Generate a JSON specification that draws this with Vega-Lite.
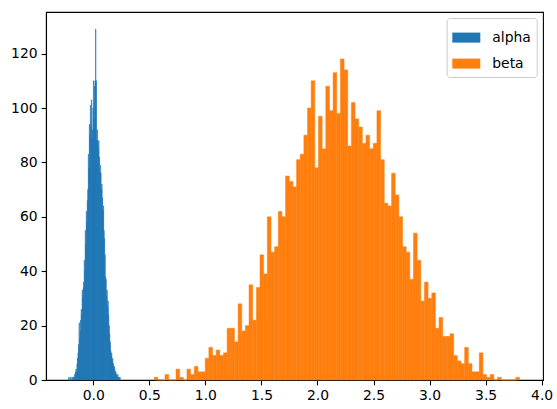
{
"$schema": "https://vega.github.io/schema/vega-lite/v6.json",
"autosize": {"type": "none"},
"padding": {"left": 46, "top": 12, "right": 14, "bottom": 29},
"width": 497,
"height": 368,
"background": "white",
"config": {
  "view": {"stroke": "black", "strokeWidth": 1.1},
  "axis": {"domainColor": "black", "domainWidth": 1.1, "tickColor": "black", "tickWidth": 1.1, "tickSize": 4.9, "labelPadding": 4, "labelFont": "DejaVu Sans", "labelFontSize": 13.9, "labelColor": "black", "grid": false, "title": null},
  "legend": {"labelFont": "DejaVu Sans", "labelFontSize": 13.9, "labelColor": "black"}
},
"data": {"values": [
{"series":"alpha","x0":-0.22,"x1":-0.2154,"count":1},
{"series":"alpha","x0":-0.2154,"x1":-0.2108,"count":0},
{"series":"alpha","x0":-0.2108,"x1":-0.2062,"count":0},
{"series":"alpha","x0":-0.2062,"x1":-0.2016,"count":1},
{"series":"alpha","x0":-0.2016,"x1":-0.197,"count":0},
{"series":"alpha","x0":-0.197,"x1":-0.1924,"count":0},
{"series":"alpha","x0":-0.1924,"x1":-0.1878,"count":1},
{"series":"alpha","x0":-0.1878,"x1":-0.1832,"count":0},
{"series":"alpha","x0":-0.1832,"x1":-0.1786,"count":1},
{"series":"alpha","x0":-0.1786,"x1":-0.174,"count":1},
{"series":"alpha","x0":-0.174,"x1":-0.1694,"count":0},
{"series":"alpha","x0":-0.1694,"x1":-0.1648,"count":2},
{"series":"alpha","x0":-0.1648,"x1":-0.1602,"count":1},
{"series":"alpha","x0":-0.1602,"x1":-0.1556,"count":3},
{"series":"alpha","x0":-0.1556,"x1":-0.151,"count":4},
{"series":"alpha","x0":-0.151,"x1":-0.1464,"count":3},
{"series":"alpha","x0":-0.1464,"x1":-0.1418,"count":6},
{"series":"alpha","x0":-0.1418,"x1":-0.1372,"count":8},
{"series":"alpha","x0":-0.1372,"x1":-0.1326,"count":10},
{"series":"alpha","x0":-0.1326,"x1":-0.128,"count":13},
{"series":"alpha","x0":-0.128,"x1":-0.1234,"count":21},
{"series":"alpha","x0":-0.1234,"x1":-0.1188,"count":15},
{"series":"alpha","x0":-0.1188,"x1":-0.1142,"count":18},
{"series":"alpha","x0":-0.1142,"x1":-0.1096,"count":22},
{"series":"alpha","x0":-0.1096,"x1":-0.105,"count":26},
{"series":"alpha","x0":-0.105,"x1":-0.1004,"count":24},
{"series":"alpha","x0":-0.1004,"x1":-0.0958,"count":33},
{"series":"alpha","x0":-0.0958,"x1":-0.0912,"count":30},
{"series":"alpha","x0":-0.0912,"x1":-0.0866,"count":34},
{"series":"alpha","x0":-0.0866,"x1":-0.082,"count":36},
{"series":"alpha","x0":-0.082,"x1":-0.0774,"count":44},
{"series":"alpha","x0":-0.0774,"x1":-0.0728,"count":40},
{"series":"alpha","x0":-0.0728,"x1":-0.0682,"count":55},
{"series":"alpha","x0":-0.0682,"x1":-0.0636,"count":50},
{"series":"alpha","x0":-0.0636,"x1":-0.059,"count":62},
{"series":"alpha","x0":-0.059,"x1":-0.0544,"count":58},
{"series":"alpha","x0":-0.0544,"x1":-0.0498,"count":66},
{"series":"alpha","x0":-0.0498,"x1":-0.0452,"count":70},
{"series":"alpha","x0":-0.0452,"x1":-0.0406,"count":83},
{"series":"alpha","x0":-0.0406,"x1":-0.036,"count":78},
{"series":"alpha","x0":-0.036,"x1":-0.0314,"count":94},
{"series":"alpha","x0":-0.0314,"x1":-0.0268,"count":90},
{"series":"alpha","x0":-0.0268,"x1":-0.0222,"count":101},
{"series":"alpha","x0":-0.0222,"x1":-0.0176,"count":94},
{"series":"alpha","x0":-0.0176,"x1":-0.013,"count":103},
{"series":"alpha","x0":-0.013,"x1":-0.0084,"count":89},
{"series":"alpha","x0":-0.0084,"x1":-0.0038,"count":92},
{"series":"alpha","x0":-0.0038,"x1":0.0008,"count":100},
{"series":"alpha","x0":0.0008,"x1":0.0054,"count":110},
{"series":"alpha","x0":0.0054,"x1":0.01,"count":96},
{"series":"alpha","x0":0.01,"x1":0.0146,"count":108},
{"series":"alpha","x0":0.0146,"x1":0.0192,"count":110},
{"series":"alpha","x0":0.0192,"x1":0.0238,"count":129},
{"series":"alpha","x0":0.0238,"x1":0.0284,"count":110},
{"series":"alpha","x0":0.0284,"x1":0.033,"count":88},
{"series":"alpha","x0":0.033,"x1":0.0376,"count":92},
{"series":"alpha","x0":0.0376,"x1":0.0422,"count":88},
{"series":"alpha","x0":0.0422,"x1":0.0468,"count":85},
{"series":"alpha","x0":0.0468,"x1":0.0514,"count":88},
{"series":"alpha","x0":0.0514,"x1":0.056,"count":82},
{"series":"alpha","x0":0.056,"x1":0.0606,"count":76},
{"series":"alpha","x0":0.0606,"x1":0.0652,"count":79},
{"series":"alpha","x0":0.0652,"x1":0.0698,"count":76},
{"series":"alpha","x0":0.0698,"x1":0.0744,"count":70},
{"series":"alpha","x0":0.0744,"x1":0.079,"count":72},
{"series":"alpha","x0":0.079,"x1":0.0836,"count":67},
{"series":"alpha","x0":0.0836,"x1":0.0882,"count":62},
{"series":"alpha","x0":0.0882,"x1":0.0928,"count":64},
{"series":"alpha","x0":0.0928,"x1":0.0974,"count":55},
{"series":"alpha","x0":0.0974,"x1":0.102,"count":52},
{"series":"alpha","x0":0.102,"x1":0.1066,"count":46},
{"series":"alpha","x0":0.1066,"x1":0.1112,"count":38},
{"series":"alpha","x0":0.1112,"x1":0.1158,"count":37},
{"series":"alpha","x0":0.1158,"x1":0.1204,"count":31},
{"series":"alpha","x0":0.1204,"x1":0.125,"count":33},
{"series":"alpha","x0":0.125,"x1":0.1296,"count":27},
{"series":"alpha","x0":0.1296,"x1":0.1342,"count":29},
{"series":"alpha","x0":0.1342,"x1":0.1388,"count":24},
{"series":"alpha","x0":0.1388,"x1":0.1434,"count":20},
{"series":"alpha","x0":0.1434,"x1":0.148,"count":17},
{"series":"alpha","x0":0.148,"x1":0.1526,"count":14},
{"series":"alpha","x0":0.1526,"x1":0.1572,"count":11},
{"series":"alpha","x0":0.1572,"x1":0.1618,"count":9},
{"series":"alpha","x0":0.1618,"x1":0.1664,"count":10},
{"series":"alpha","x0":0.1664,"x1":0.171,"count":7},
{"series":"alpha","x0":0.171,"x1":0.1756,"count":8},
{"series":"alpha","x0":0.1756,"x1":0.1802,"count":6},
{"series":"alpha","x0":0.1802,"x1":0.1848,"count":5},
{"series":"alpha","x0":0.1848,"x1":0.1894,"count":5},
{"series":"alpha","x0":0.1894,"x1":0.194,"count":4},
{"series":"alpha","x0":0.194,"x1":0.1986,"count":3},
{"series":"alpha","x0":0.1986,"x1":0.2032,"count":3},
{"series":"alpha","x0":0.2032,"x1":0.2078,"count":2},
{"series":"alpha","x0":0.2078,"x1":0.2124,"count":2},
{"series":"alpha","x0":0.2124,"x1":0.217,"count":1},
{"series":"alpha","x0":0.217,"x1":0.2216,"count":2},
{"series":"alpha","x0":0.2216,"x1":0.2262,"count":1},
{"series":"alpha","x0":0.2262,"x1":0.2308,"count":0},
{"series":"alpha","x0":0.2308,"x1":0.2354,"count":1},
{"series":"alpha","x0":0.2354,"x1":0.24,"count":1},
{"series":"beta","x0":0.542,"x1":0.5746,"count":1},
{"series":"beta","x0":0.5746,"x1":0.6072,"count":0},
{"series":"beta","x0":0.6072,"x1":0.6398,"count":0},
{"series":"beta","x0":0.6398,"x1":0.6724,"count":2},
{"series":"beta","x0":0.6724,"x1":0.705,"count":0},
{"series":"beta","x0":0.705,"x1":0.7376,"count":0},
{"series":"beta","x0":0.7376,"x1":0.7702,"count":4},
{"series":"beta","x0":0.7702,"x1":0.8028,"count":1},
{"series":"beta","x0":0.8028,"x1":0.8354,"count":0},
{"series":"beta","x0":0.8354,"x1":0.868,"count":4},
{"series":"beta","x0":0.868,"x1":0.9006,"count":2},
{"series":"beta","x0":0.9006,"x1":0.9332,"count":5},
{"series":"beta","x0":0.9332,"x1":0.9658,"count":3},
{"series":"beta","x0":0.9658,"x1":0.9984,"count":3},
{"series":"beta","x0":0.9984,"x1":1.031,"count":8},
{"series":"beta","x0":1.031,"x1":1.0636,"count":12},
{"series":"beta","x0":1.0636,"x1":1.0962,"count":9},
{"series":"beta","x0":1.0962,"x1":1.1288,"count":11},
{"series":"beta","x0":1.1288,"x1":1.1614,"count":9},
{"series":"beta","x0":1.1614,"x1":1.194,"count":10},
{"series":"beta","x0":1.194,"x1":1.2266,"count":19},
{"series":"beta","x0":1.2266,"x1":1.2592,"count":19},
{"series":"beta","x0":1.2592,"x1":1.2918,"count":14},
{"series":"beta","x0":1.2918,"x1":1.3244,"count":28},
{"series":"beta","x0":1.3244,"x1":1.357,"count":18},
{"series":"beta","x0":1.357,"x1":1.3896,"count":20},
{"series":"beta","x0":1.3896,"x1":1.4222,"count":35},
{"series":"beta","x0":1.4222,"x1":1.4548,"count":22},
{"series":"beta","x0":1.4548,"x1":1.4874,"count":34},
{"series":"beta","x0":1.4874,"x1":1.52,"count":46},
{"series":"beta","x0":1.52,"x1":1.5526,"count":39},
{"series":"beta","x0":1.5526,"x1":1.5852,"count":60},
{"series":"beta","x0":1.5852,"x1":1.6178,"count":47},
{"series":"beta","x0":1.6178,"x1":1.6504,"count":49},
{"series":"beta","x0":1.6504,"x1":1.683,"count":62},
{"series":"beta","x0":1.683,"x1":1.7156,"count":60},
{"series":"beta","x0":1.7156,"x1":1.7482,"count":75},
{"series":"beta","x0":1.7482,"x1":1.7808,"count":73},
{"series":"beta","x0":1.7808,"x1":1.8134,"count":71},
{"series":"beta","x0":1.8134,"x1":1.846,"count":81},
{"series":"beta","x0":1.846,"x1":1.8786,"count":83},
{"series":"beta","x0":1.8786,"x1":1.9112,"count":90},
{"series":"beta","x0":1.9112,"x1":1.9438,"count":100},
{"series":"beta","x0":1.9438,"x1":1.9764,"count":110},
{"series":"beta","x0":1.9764,"x1":2.009,"count":78},
{"series":"beta","x0":2.009,"x1":2.0416,"count":97},
{"series":"beta","x0":2.0416,"x1":2.0742,"count":85},
{"series":"beta","x0":2.0742,"x1":2.1068,"count":108},
{"series":"beta","x0":2.1068,"x1":2.1394,"count":99},
{"series":"beta","x0":2.1394,"x1":2.172,"count":113},
{"series":"beta","x0":2.172,"x1":2.2046,"count":98},
{"series":"beta","x0":2.2046,"x1":2.2372,"count":118},
{"series":"beta","x0":2.2372,"x1":2.2698,"count":114},
{"series":"beta","x0":2.2698,"x1":2.3024,"count":86},
{"series":"beta","x0":2.3024,"x1":2.335,"count":102},
{"series":"beta","x0":2.335,"x1":2.3676,"count":96},
{"series":"beta","x0":2.3676,"x1":2.4002,"count":93},
{"series":"beta","x0":2.4002,"x1":2.4328,"count":87},
{"series":"beta","x0":2.4328,"x1":2.4654,"count":90},
{"series":"beta","x0":2.4654,"x1":2.498,"count":85},
{"series":"beta","x0":2.498,"x1":2.5306,"count":87},
{"series":"beta","x0":2.5306,"x1":2.5632,"count":99},
{"series":"beta","x0":2.5632,"x1":2.5958,"count":81},
{"series":"beta","x0":2.5958,"x1":2.6284,"count":65},
{"series":"beta","x0":2.6284,"x1":2.661,"count":64},
{"series":"beta","x0":2.661,"x1":2.6936,"count":76},
{"series":"beta","x0":2.6936,"x1":2.7262,"count":68},
{"series":"beta","x0":2.7262,"x1":2.7588,"count":60},
{"series":"beta","x0":2.7588,"x1":2.7914,"count":49},
{"series":"beta","x0":2.7914,"x1":2.824,"count":47},
{"series":"beta","x0":2.824,"x1":2.8566,"count":37},
{"series":"beta","x0":2.8566,"x1":2.8892,"count":54},
{"series":"beta","x0":2.8892,"x1":2.9218,"count":44},
{"series":"beta","x0":2.9218,"x1":2.9544,"count":29},
{"series":"beta","x0":2.9544,"x1":2.987,"count":36},
{"series":"beta","x0":2.987,"x1":3.0196,"count":30},
{"series":"beta","x0":3.0196,"x1":3.0522,"count":32},
{"series":"beta","x0":3.0522,"x1":3.0848,"count":19},
{"series":"beta","x0":3.0848,"x1":3.1174,"count":23},
{"series":"beta","x0":3.1174,"x1":3.15,"count":16},
{"series":"beta","x0":3.15,"x1":3.1826,"count":16},
{"series":"beta","x0":3.1826,"x1":3.2152,"count":17},
{"series":"beta","x0":3.2152,"x1":3.2478,"count":9},
{"series":"beta","x0":3.2478,"x1":3.2804,"count":7},
{"series":"beta","x0":3.2804,"x1":3.313,"count":6},
{"series":"beta","x0":3.313,"x1":3.3456,"count":12},
{"series":"beta","x0":3.3456,"x1":3.3782,"count":6},
{"series":"beta","x0":3.3782,"x1":3.4108,"count":3},
{"series":"beta","x0":3.4108,"x1":3.4434,"count":3},
{"series":"beta","x0":3.4434,"x1":3.476,"count":10},
{"series":"beta","x0":3.476,"x1":3.5086,"count":2},
{"series":"beta","x0":3.5086,"x1":3.5412,"count":1},
{"series":"beta","x0":3.5412,"x1":3.5738,"count":2},
{"series":"beta","x0":3.5738,"x1":3.6064,"count":0},
{"series":"beta","x0":3.6064,"x1":3.639,"count":1},
{"series":"beta","x0":3.639,"x1":3.6716,"count":0},
{"series":"beta","x0":3.6716,"x1":3.7042,"count":0},
{"series":"beta","x0":3.7042,"x1":3.7368,"count":0},
{"series":"beta","x0":3.7368,"x1":3.7694,"count":0},
{"series":"beta","x0":3.7694,"x1":3.802,"count":1}
]},
"mark": {"type": "rect", "strokeWidth": 0.5, "strokeOpacity": 1},
"encoding": {
  "x": {"field": "x0", "type": "quantitative", "scale": {"domain": [-0.422, 4.012], "nice": false, "zero": false},
        "axis": {"values": [0, 0.5, 1, 1.5, 2, 2.5, 3, 3.5, 4], "format": ".1f"}},
  "x2": {"field": "x1"},
  "y": {"field": "count", "type": "quantitative", "scale": {"domain": [0, 135.3], "nice": false},
        "axis": {"values": [0, 20, 40, 60, 80, 100, 120]}},
  "y2": {"datum": 0},
  "stroke": {"field": "series", "type": "nominal",
             "scale": {"domain": ["alpha", "beta"], "range": ["#1f77b4", "#ff7f0e"]}, "legend": null},
  "color": {"field": "series", "type": "nominal",
            "scale": {"domain": ["alpha", "beta"], "range": ["#1f77b4", "#ff7f0e"]},
            "legend": {"title": null, "orient": "none", "legendX": 400.7, "legendY": 6,
                       "symbolType": "M-1,-0.357H1V0.357H-1Z", "symbolSize": 784, "symbolStrokeWidth": 0, "symbolOpacity": 1,
                       "labelOffset": 12, "rowPadding": 5, "padding": 5.6,
                       "strokeColor": "#cccccc", "fillColor": "white", "cornerRadius": 3}}
}
}
